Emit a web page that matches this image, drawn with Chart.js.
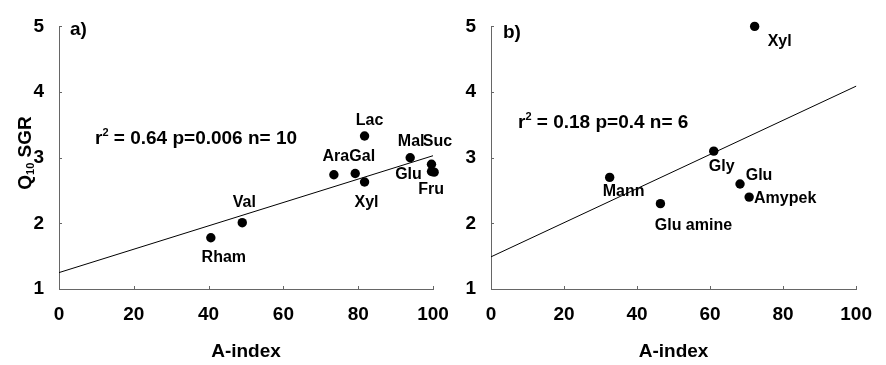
<!DOCTYPE html>
<html>
<head>
<meta charset="utf-8">
<script src="https://cdn.jsdelivr.net/npm/chart.js@4.4.1/dist/chart.umd.min.js"></script>
<style>
  html, body { margin: 0; padding: 0; background: #fff; }
  #wrap { position: relative; width: 886px; height: 365px; }
  #wrap canvas { position: absolute; left: 0; top: 0; }
</style>
</head>
<body>
<div id="wrap">
  <canvas id="chartA" width="886" height="365"></canvas>
  <canvas id="chartB" width="886" height="365"></canvas>
</div>
<script>
// panel a)
const namesA = ['Rham', 'Val', 'Ara', 'Gal', 'Lac', 'Xyl', 'Mal', 'Suc', 'Glu', 'Fru'];
const aIndexA = [40.6, 49.0, 73.5, 79.2, 81.7, 81.7, 93.9, 99.6, 99.6, 100.3];
const q10A = [1.78, 2.01, 2.74, 2.76, 3.33, 2.63, 3.00, 2.90, 2.79, 2.78];
const fitA = [1.25, 3.03];          // regression line at A-index 0 and 100
const statsA = '= 0.64 p=0.006 n= 10';

// panel b)
const namesB = ['Xyl', 'Gly', 'Mann', 'Glu amine', 'Glu', 'Amypek'];
const aIndexB = [72.2, 61.0, 32.5, 46.4, 68.2, 70.7];
const q10B = [5.00, 3.10, 2.70, 2.30, 2.60, 2.40];
const fitB = [1.49, 4.09];
const statsB = '= 0.18 p=0.4 n= 6';

const fitX = [0, 100];
const xTicks = [0, 20, 40, 60, 80, 100];
const yTicks = [1, 2, 3, 4, 5];

// label placement (pixel offset of the label centre from its dot)
const labelOffA = [[13, 20], [2, -20], [2, -18], [7, -17], [5, -15], [2, 21], [1, -16], [6, -23], [-23, 3], [-3, 17]];
const labelOffB = [[25, 15], [8, 15], [14, 14], [33, 22], [19, -8], [36, 2]];

const FONT = '"Liberation Sans", Arial, Helvetica, sans-serif';

// draws dot labels, panel letter, r2 text, inner tick marks and the y title
const panelText = {
  id: 'panelText',
  afterDatasetsDraw(chart, args, o) {
    const ctx = chart.ctx;
    const xs = chart.scales.x, ys = chart.scales.y;
    ctx.save();

    ctx.strokeStyle = '#666';
    ctx.lineWidth = 1;
    ctx.beginPath();
    xTicks.forEach(v => {
      const px = Math.round(xs.getPixelForValue(v)) + 0.5;
      ctx.moveTo(px, ys.bottom);
      ctx.lineTo(px, ys.bottom - 3);
    });
    yTicks.forEach(v => {
      const py = Math.round(ys.getPixelForValue(v)) + 0.5;
      ctx.moveTo(xs.left, py);
      ctx.lineTo(xs.left + 3, py);
    });
    ctx.stroke();

    ctx.fillStyle = '#000';
    ctx.font = 'bold 16px ' + FONT;
    ctx.textAlign = 'center';
    ctx.textBaseline = 'middle';
    chart.getDatasetMeta(0).data.forEach((pt, i) => {
      const off = o.offsets[i];
      ctx.fillText(o.names[i], pt.x + off[0], pt.y + off[1]);
    });

    ctx.textAlign = 'left';
    ctx.textBaseline = 'alphabetic';
    ctx.font = 'bold 19px ' + FONT;
    ctx.fillText(o.letter, o.letterAt[0], o.letterAt[1]);

    // r² = ...
    let sx = o.statsAt[0];
    const sy = o.statsAt[1];
    ctx.font = 'bold 19px ' + FONT;
    ctx.fillText('r', sx, sy);
    sx += ctx.measureText('r').width;
    ctx.font = 'bold 11px ' + FONT;
    ctx.fillText('2', sx, sy - 8);
    sx += ctx.measureText('2').width;
    ctx.font = 'bold 19px ' + FONT;
    ctx.fillText(' ' + o.stats, sx, sy);

    if (o.yTitle) {
      ctx.translate(31, 153);
      ctx.rotate(-Math.PI / 2);
      const big = 'bold 19px ' + FONT, small = 'bold 11px ' + FONT;
      ctx.font = big;
      const wQ = ctx.measureText('Q').width;
      const wR = ctx.measureText(' SGR').width;
      ctx.font = small;
      const wS = ctx.measureText('10').width;
      let tx = -(wQ + wS + wR) / 2;
      ctx.font = big;
      ctx.fillText('Q', tx, 0);
      tx += wQ;
      ctx.font = small;
      ctx.fillText('10', tx, 3);
      tx += wS;
      ctx.font = big;
      ctx.fillText(' SGR', tx, 0);
    }
    ctx.restore();
  }
};

function makePanel(id, names, xs, ys, fit, offsets, cfg) {
  const tickFont = { family: FONT, size: 19, weight: 'bold' };
  return new Chart(document.getElementById(id), {
    type: 'scatter',
    data: {
      datasets: [
        {
          data: xs.map((x, i) => ({ x: x, y: ys[i] })),
          backgroundColor: '#000',
          borderWidth: 0,
          pointRadius: 4.7,
          clip: false
        },
        {
          data: fitX.map((x, i) => ({ x: x, y: fit[i] })),
          showLine: true,
          borderColor: '#000',
          borderWidth: 1,
          pointRadius: 0,
          clip: false
        }
      ]
    },
    options: {
      responsive: false,
      animation: false,
      devicePixelRatio: 1,
      layout: { padding: cfg.padding },
      plugins: {
        legend: { display: false },
        tooltip: { enabled: false },
        panelText: cfg.text
      },
      scales: {
        x: {
          type: 'linear',
          min: 0,
          max: 100,
          afterBuildTicks: s => { s.ticks = xTicks.map(v => ({ value: v })); },
          afterFit: s => { s.height = 76; },
          grid: { display: false, drawTicks: false },
          border: { display: true, color: '#666', width: 1 },
          ticks: { color: '#000', font: tickFont, padding: 14, maxRotation: 0 },
          title: {
            display: true,
            text: 'A-index',
            color: '#000',
            font: tickFont,
            padding: { top: 4, bottom: 2 }
          }
        },
        y: {
          type: 'linear',
          min: 1,
          max: 5,
          afterBuildTicks: s => { s.ticks = yTicks.map(v => ({ value: v })); },
          afterFit: s => { s.width = cfg.yWidth; },
          grid: { display: false, drawTicks: false },
          border: { display: true, color: '#666', width: 1 },
          ticks: { color: '#000', font: tickFont, padding: 15 }
        }
      }
    },
    plugins: [panelText]
  });
}

makePanel('chartA', namesA, aIndexA, q10A, fitA, labelOffA, {
  padding: { left: 0, top: 16, right: 453, bottom: 0 },
  yWidth: 59,
  text: { names: namesA, offsets: labelOffA, letter: 'a)', letterAt: [70, 35], stats: statsA, statsAt: [95, 144], yTitle: true }
});

makePanel('chartB', namesB, aIndexB, q10B, fitB, labelOffB, {
  padding: { left: 0, top: 21, right: 19, bottom: 0 },
  yWidth: 491,
  text: { names: namesB, offsets: labelOffB, letter: 'b)', letterAt: [503, 38], stats: statsB, statsAt: [518, 128], yTitle: false }
});
</script>
</body>
</html>
